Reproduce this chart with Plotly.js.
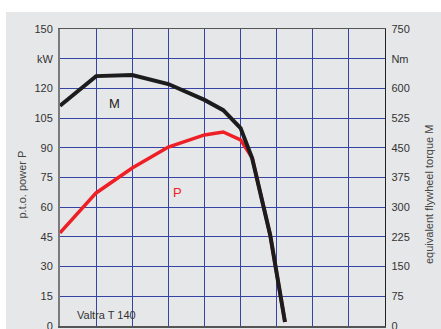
<!DOCTYPE html>
<html>
<head>
<meta charset="utf-8">
<script src="https://cdn.plot.ly/plotly-3.0.1.min.js"></script>
<style>
  html, body { margin: 0; padding: 0; background: #ffffff; overflow: hidden; }
  #chart { position: absolute; left: 6px; top: 12px; width: 435px; height: 340px; }
</style>
</head>
<body>
<div id="chart"></div>
<script>
// engine speed steps (grid columns)
const speedSteps = [0, 1, 2, 3, 4, 4.52, 5.0, 5.32, 5.82, 6.23];
const powerKw = [47, 67.2, 79.8, 90.4, 96.5, 98, 94, 85, 46, 2];
const torqueNm = [556, 631, 634, 611, 571, 545, 500, 424, 230, 10];

const powerTicks = [0, 15, 30, 45, 60, 75, 90, 105, 120, 135, 150];
const powerLabels = ['0', '15', '30', '45', '60', '75', '90', '105', '120', 'kW', '150'];
const torqueTicks = [0, 75, 150, 225, 300, 375, 450, 525, 600, 675, 750];
const torqueLabels = ['0', '75', '150', '225', '300', '375', '450', '525', '600', 'Nm', '750'];

const tickFont = {family: 'Liberation Sans, Arial, sans-serif', size: 11, color: '#333'};
const gridBlue = 'rgb(55, 66, 165)';

const traces = [
    {
        x: speedSteps,
        y: powerKw,
        type: 'scatter',
        mode: 'lines',
        line: {color: '#ee2026', width: 3.5},
        yaxis: 'y',
        hoverinfo: 'skip'
    },
    {
        x: speedSteps,
        y: torqueNm,
        type: 'scatter',
        mode: 'lines',
        line: {color: '#1c1c1c', width: 4},
        yaxis: 'y2',
        hoverinfo: 'skip'
    }
];

const layout = {
    width: 435,
    height: 340,
    paper_bgcolor: '#e6e7e9',
    plot_bgcolor: '#e6e7e9',
    showlegend: false,
    margin: {l: 54, r: 56, t: 17, b: 26},
    xaxis: {
        range: [0, 9],
        dtick: 1,
        showticklabels: false,
        showgrid: true,
        gridcolor: gridBlue,
        gridwidth: 1,
        zeroline: false,
        showline: true,
        mirror: true,
        linecolor: '#555',
        linewidth: 1.5,
        ticks: ''
    },
    yaxis: {
        range: [0, 150],
        tickvals: powerTicks,
        ticktext: powerLabels,
        tickfont: tickFont,
        showgrid: true,
        gridcolor: gridBlue,
        gridwidth: 1,
        zeroline: false,
        showline: true,
        linecolor: '#7a7a7a',
        linewidth: 2,
        ticks: 'outside',
        ticklen: 3,
        tickcolor: 'rgba(0,0,0,0)'
    },
    yaxis2: {
        range: [0, 750],
        overlaying: 'y',
        side: 'right',
        tickvals: torqueTicks,
        ticktext: torqueLabels,
        tickfont: tickFont,
        showgrid: false,
        zeroline: false,
        showline: true,
        linecolor: '#222',
        linewidth: 1.2,
        ticks: 'outside',
        ticklen: 3,
        tickcolor: 'rgba(0,0,0,0)'
    },
    annotations: [
        {
            xref: 'paper', yref: 'paper', x: -0.14, y: 0.478,
            text: 'p.t.o. power P', textangle: -90, showarrow: false,
            font: {family: 'Liberation Sans, Arial, sans-serif', size: 11, color: '#444'}
        },
        {
            xref: 'paper', yref: 'paper', x: 1.16, y: 0.441,
            text: 'equivalent flywheel torque M', textangle: -90, showarrow: false,
            font: {family: 'Liberation Sans, Arial, sans-serif', size: 11, color: '#444'}
        },
        {
            x: 1.52, y: 112.6, xref: 'x', yref: 'y',
            text: 'M', showarrow: false,
            font: {family: 'Liberation Sans, Arial, sans-serif', size: 13, color: '#222'}
        },
        {
            x: 3.24, y: 67.2, xref: 'x', yref: 'y',
            text: 'P', showarrow: false,
            font: {family: 'Liberation Sans, Arial, sans-serif', size: 13, color: '#ee2026'}
        },
        {
            x: 1.3, y: 5.5, xref: 'x', yref: 'y',
            text: 'Valtra T 140', showarrow: false,
            font: {family: 'Liberation Sans, Arial, sans-serif', size: 11, color: '#333'}
        }
    ]
};

Plotly.newPlot('chart', traces, layout, {displayModeBar: false, staticPlot: true});
</script>
</body>
</html>
